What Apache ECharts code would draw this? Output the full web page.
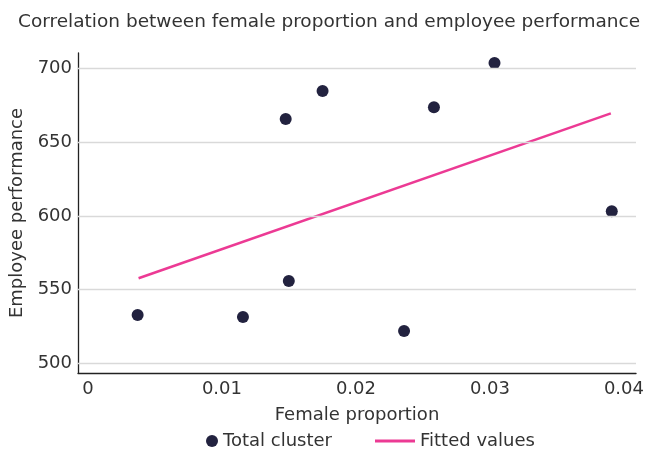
<!DOCTYPE html>
<html>
<head>
<meta charset="utf-8">
<script src="https://cdn.jsdelivr.net/npm/echarts@6/dist/echarts.min.js"></script>
<style>
  html, body { margin: 0; padding: 0; background: #fff; overflow: hidden; }
  #chart { width: 647px; height: 449px; }
</style>
</head>
<body>
<div id="chart"></div>
<script>
// Female proportion (x) and employee performance (y) per cluster
var femaleProportion = [0.00371, 0.01157, 0.01476, 0.01499, 0.01751, 0.02359, 0.02582, 0.03034, 0.03909];
var performance      = [532.6,   531.3,   665.8,   555.7,   684.8,   521.8,   673.9,   703.9,   603.2];

// Fitted regression line, evaluated at the smallest and largest proportion
var fittedX = [0.00378, 0.03902];
var fittedY = [557.6, 669.7];

// Axis ticks
var xTicks = [0, 0.01, 0.02, 0.03, 0.04];
var yTicks = [500, 550, 600, 650, 700];

var FONT = 'DejaVu Sans';
var FS = 18;
var TEXT = '#333333';

var scatterData = femaleProportion.map(function (x, i) { return [x, performance[i]]; });
var fittedData = fittedX.map(function (x, i) { return [x, fittedY[i]]; });

var chart = echarts.init(document.getElementById('chart'), null, { renderer: 'canvas' });

chart.setOption({
  animation: false,
  backgroundColor: '#ffffff',
  textStyle: { fontFamily: FONT, color: TEXT },
  title: {
    text: 'Correlation between female proportion and employee performance',
    left: 18,
    top: 13,
    padding: 0,
    textStyle: { fontFamily: FONT, fontSize: 18.5, fontWeight: 'normal', color: TEXT }
  },
  legend: [
    {
      data: [{ name: 'Total cluster', icon: 'circle' }],
      left: 206,
      top: 432,
      padding: 0,
      itemWidth: 12,
      itemHeight: 12,
      textStyle: { fontFamily: FONT, fontSize: FS, color: TEXT }
    },
    {
      data: [{ name: 'Fitted values', icon: 'rect' }],
      left: 375,
      top: 432,
      padding: 0,
      itemWidth: 40,
      itemHeight: 3,
      textStyle: { fontFamily: FONT, fontSize: FS, color: TEXT }
    }
  ],
  grid: { left: 78, right: 8, top: 53, bottom: 76, containLabel: false },
  xAxis: {
    type: 'value',
    min: -0.00074,
    max: 0.0409,
    name: 'Female proportion',
    nameLocation: 'middle',
    nameGap: 33,
    nameTextStyle: { fontFamily: FONT, fontSize: FS, color: TEXT },
    axisLine: { show: true, onZero: false, lineStyle: { color: '#222222', width: 1.3 } },
    axisTick: { show: false },
    splitLine: { show: false },
    axisLabel: {
      customValues: xTicks,
      margin: 7,
      fontFamily: FONT,
      fontSize: FS,
      color: TEXT,
      formatter: function (v) { return String(+v.toFixed(4)); }
    }
  },
  yAxis: {
    type: 'value',
    min: 493.2,
    max: 710.7,
    name: 'Employee performance',
    nameLocation: 'middle',
    nameGap: 50,
    nameTextStyle: { fontFamily: FONT, fontSize: FS, color: TEXT },
    axisLine: { show: true, onZero: false, lineStyle: { color: '#222222', width: 1.3 } },
    axisTick: { show: false },
    splitLine: { show: false },
    axisLabel: {
      customValues: yTicks,
      margin: 6,
      fontFamily: FONT,
      fontSize: FS,
      color: TEXT
    }
  },
  series: [
    {
      // horizontal reference lines at each y tick
      name: 'grid',
      type: 'line',
      data: [],
      z: 1,
      silent: true,
      markLine: {
        silent: true,
        symbol: ['none', 'none'],
        label: { show: false },
        lineStyle: { color: '#d9d9d9', width: 1.3, type: 'solid' },
        data: yTicks.map(function (v) { return { yAxis: v }; })
      }
    },
    {
      name: 'Fitted values',
      type: 'line',
      data: fittedData,
      z: 3,
      showSymbol: false,
      symbol: 'none',
      color: '#ec3a94',
      lineStyle: { color: '#ec3a94', width: 2.5 }
    },
    {
      name: 'Total cluster',
      type: 'scatter',
      data: scatterData,
      z: 4,
      symbol: 'circle',
      symbolSize: 12,
      color: '#22223f',
      itemStyle: { color: '#22223f', opacity: 1 }
    }
  ]
});
</script>
</body>
</html>
